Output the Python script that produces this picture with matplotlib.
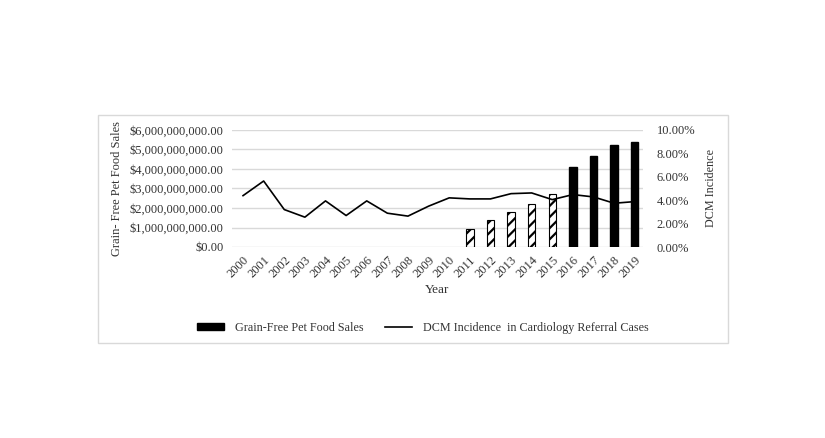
import matplotlib
matplotlib.use("Agg")
import matplotlib.pyplot as plt
from matplotlib.patches import Rectangle, Patch
from matplotlib.lines import Line2D
from matplotlib.ticker import FuncFormatter

years = [str(y) for y in range(2000, 2020)]
sales = [0, 0, 0, 0, 0, 0, 0, 0, 0, 0, 0,
         0.90e9, 1.41e9, 1.80e9, 2.19e9, 2.70e9, 4.08e9, 4.69e9, 5.25e9, 5.39e9]
hatched = [False] * 11 + [True] * 5 + [False] * 4
dcm = [4.39, 5.64, 3.20, 2.55, 3.94, 2.69, 3.94, 2.89, 2.64, 3.49,
       4.20, 4.11, 4.11, 4.56, 4.62, 4.05, 4.48, 4.28, 3.74, 3.88]

plt.rcParams['font.family'] = ['Liberation Serif', 'DejaVu Serif']
plt.rcParams['hatch.linewidth'] = 1.6
tc = '#333333'

fig = plt.figure(figsize=(8.25, 4.38), dpi=100)
fig.patches.append(Rectangle((97.5/825, 1 - 343/438), (728 - 97.5)/825, (343 - 115)/438,
                             transform=fig.transFigure, fill=False, edgecolor='#d9d9d9',
                             linewidth=1.0))

ax = fig.add_axes([231.7/825, 1 - 247/438, (643 - 231.7)/825, (247 - 130)/438])
x = list(range(len(years)))
for i, (v, h) in enumerate(zip(sales, hatched)):
    if v <= 0:
        continue
    if h:
        ax.bar(i, v, width=0.36, color='white', edgecolor='black', hatch='///',
               linewidth=0.8, zorder=3)
    else:
        ax.bar(i, v, width=0.36, color='black', edgecolor='black', zorder=3)
ax.set_ylim(0, 6e9)
ax.set_yticks([i * 1e9 for i in range(7)])
ax.yaxis.set_major_formatter(FuncFormatter(lambda v, p: '${:,.2f}'.format(v)))
ax.set_xlim(-0.55, 19.4)
ax.set_xticks(x)
ax.set_xticklabels(years, rotation=45, ha='right', rotation_mode='anchor')
ax.grid(axis='y', color='#d9d9d9', linewidth=1.0, zorder=0)
ax.set_axisbelow(True)
for s in ax.spines.values():
    s.set_visible(False)
ax.tick_params(axis='both', length=0, labelsize=9, colors=tc)
ax.tick_params(axis='y', pad=6)
ax.tick_params(axis='x', pad=5)
ax.set_ylabel('Grain- Free Pet Food Sales', fontsize=9, color=tc)
ax.yaxis.set_label_coords((123 - 231.7) / (643 - 231.7), 0.5)
ax.set_xlabel('Year', fontsize=9.5, color=tc, labelpad=3)

ax2 = ax.twinx()
ax2.plot(x, dcm, color='black', linewidth=1.2, zorder=4)
ax2.set_ylim(0, 10)
ax2.set_yticks([0, 2, 4, 6, 8, 10])
ax2.yaxis.set_major_formatter(FuncFormatter(lambda v, p: '{:.2f}%'.format(v)))
for s in ax2.spines.values():
    s.set_visible(False)
ax2.tick_params(axis='y', length=0, labelsize=9, colors=tc, pad=10)
ax2.set_ylabel('DCM Incidence', fontsize=8.7, color=tc)
ax2.yaxis.set_label_coords((705 - 231.7) / (643 - 231.7), 0.5)

handles = [Patch(facecolor='black', edgecolor='black'),
           Line2D([0], [0], color='black', linewidth=1.2)]
labels = ['Grain-Free Pet Food Sales', 'DCM Incidence  in Cardiology Referral Cases']
leg = fig.legend(handles, labels, loc='center', bbox_to_anchor=(423/825, 1 - 328/438),
                 ncol=2, frameon=False, fontsize=8.7, handlelength=2.2, handleheight=0.55,
                 columnspacing=1.8, handletextpad=0.9)
for t in leg.get_texts():
    t.set_color(tc)

fig.savefig('out.png', dpi=100, facecolor='white')
